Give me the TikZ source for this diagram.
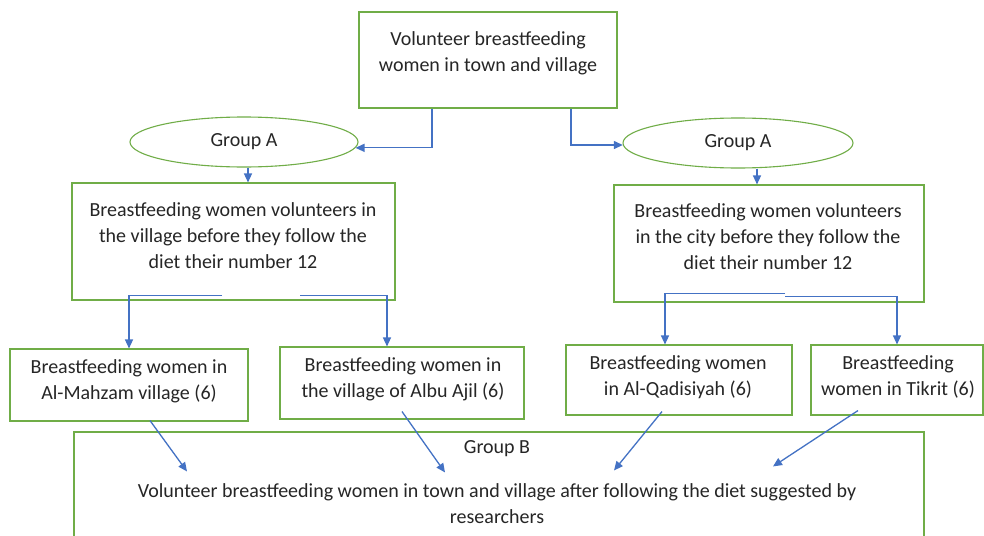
\documentclass[tikz,border=0pt]{standalone}
\usepackage{fontspec}
\setmainfont{Carlito}
\usetikzlibrary{shapes.geometric}
\usetikzlibrary{arrows.meta}
\usepackage{xcolor}
\definecolor{boxgreen}{RGB}{112,173,71}
\definecolor{linkblue}{RGB}{68,114,196}

\begin{document}
\begin{tikzpicture}[x=1pt,y=-1pt,
	box/.style={draw=boxgreen, line width=1.1pt, inner sep=0pt},
	grp/.style={draw=boxgreen, ellipse, line width=1.1pt, inner sep=0pt, minimum height=50pt},
	txt/.style={align=center, font=\fontsize{20}{26}\selectfont, text=black!85},
	link/.style={draw=linkblue, line width=1.3pt, -{Triangle[length=9pt,width=8pt]}}]
	\clip (0,0) rectangle (984,535);
	\fill[white] (0,0) rectangle (984,535);
	% boxes
	\node[box, minimum width=258pt, minimum height=96pt] (top) at (488,60) {};
	\node[grp, minimum width=228pt] (grpl) at (244,142) {};
	\node[grp, minimum width=230pt] (grpr) at (738,143) {};
	\node[box, minimum width=323pt, minimum height=117pt] (lbox) at (233.5,241.5) {};
	\node[box, minimum width=310pt, minimum height=117pt] (rbox) at (769,243.5) {};
	\node[box, minimum width=238pt, minimum height=72pt] (mahzam) at (129,385) {};
	\node[box, minimum width=244pt, minimum height=72pt] (ajil) at (402,383) {};
	\node[box, minimum width=226pt, minimum height=70pt] (qadis) at (679,380) {};
	\node[box, minimum width=172pt, minimum height=70pt] (tikrit) at (897,380) {};
	\node[box, minimum width=850pt, minimum height=128pt] (grpb) at (499,496) {};
	% texts
	\node[txt] (toptext) at (488,53) {Volunteer breastfeeding\\women in town and village};
	\node[txt] (grpltext) at (244,142) {Group A};
	\node[txt] (grprtext) at (738,143) {Group A};
	\node[txt] (lboxtext) at (233,236) {Breastfeeding women volunteers in\\the village before they follow the\\diet their number 12};
	\node[txt] (rboxtext) at (768,237) {Breastfeeding women volunteers\\in the city before they follow the\\diet their number 12};
	\node[txt] (mahzamtext) at (129,381.5) {Breastfeeding women in\\Al-Mahzam village (6)};
	\node[txt] (ajiltext) at (403,379) {Breastfeeding women in\\the village of Albu Ajil (6)};
	\node[txt] (qadistext) at (678,377) {Breastfeeding women\\in Al-Qadisiyah (6)};
	\node[txt] (tikrittext) at (898,376.5) {Breastfeeding\\women in Tikrit (6)};
	\node[txt] (grpbtitle) at (497,449) {Group B};
	\node[txt] (grpbtext) at (497,504) {Volunteer breastfeeding women in town and village after following the diet suggested by\\researchers};
	% connectors
	\draw[link] ([xshift=-56pt]top.south) |- (grpl.-3);
	\draw[link] ([xshift=83pt]top.south) |- (grpr.181);
	\draw[link] ([xshift=4pt]grpl.south) -- ([xshift=14.5pt]lbox.north);
	\draw[link] ([xshift=19pt]grpr.south) -- ([xshift=-12pt]rbox.north);
	\draw[link] ([shift={(-11.5,-5)}]lbox.south) -| (mahzam.north);
	\draw[link] ([shift={(66.5,-5)}]lbox.south) -| ([xshift=-15pt]ajil.north);
	\draw[link] ([shift={(16,-9)}]rbox.south) -| ([xshift=-14pt]qadis.north);
	\draw[link] ([shift={(16,-6)}]rbox.south) -| (tikrit.north);
	\draw[link] ([shift={(21,-1)}]mahzam.south) -- ([shift={(-312,40)}]grpb.north);
	\draw[link] ([yshift=8pt]ajil.south) -- ([shift={(-54,41)}]grpb.north);
	\draw[link] ([shift={(-17,-4)}]qadis.south) -- ([shift={(115,39)}]grpb.north);
	\draw[link] ([shift={(-39,-5)}]tikrit.south) -- ([shift={(274,35)}]grpb.north);
\end{tikzpicture}
\end{document}
